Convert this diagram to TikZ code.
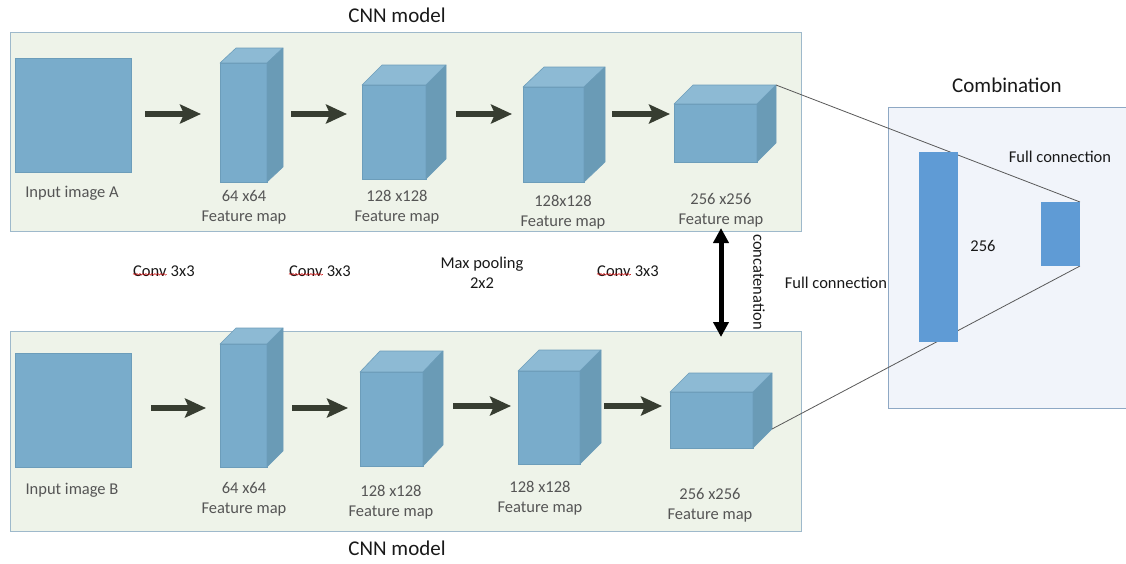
\documentclass[tikz,border=0pt]{standalone}
\usepackage{fontspec}
\setmainfont{Carlito}
\usetikzlibrary{arrows.meta,decorations.pathmorphing}
\definecolor{panelfill}{HTML}{EEF3E9}
\definecolor{panelline}{HTML}{9EB9CB}
\definecolor{combfill}{HTML}{F1F4FA}
\definecolor{combline}{HTML}{8EA8C4}
\definecolor{frontc}{HTML}{79ACCB}
\definecolor{topc}{HTML}{8DBAD4}
\definecolor{sidec}{HTML}{6A9BB6}
\definecolor{edgec}{HTML}{6C9DBA}
\definecolor{barc}{HTML}{5F9BD5}
\definecolor{arrowc}{HTML}{373D31}
\definecolor{lblc}{HTML}{555555}
\tikzset{
  panel/.style={draw=panelline, fill=panelfill, line width=1pt, inner sep=0, outer sep=0},
  comb/.style={draw=combline, fill=combfill, line width=1pt, inner sep=0, outer sep=0},
  front/.style={fill=frontc, draw=edgec, line width=0.6pt, inner sep=0, outer sep=0},
  topface/.style={fill=topc, draw=edgec, line width=0.6pt, line join=round},
  sideface/.style={fill=sidec, draw=edgec, line width=0.6pt, line join=round},
  inimg/.style={fill=frontc, draw=edgec, line width=0.8pt, inner sep=0, outer sep=0},
  bar/.style={fill=barc, inner sep=0, outer sep=0},
  lbl/.style={text=lblc, font=\fontsize{16.5}{20}\selectfont, align=center, inner sep=0},
  outl/.style={text=black!90, font=\fontsize{16.5}{20}\selectfont, align=center, inner sep=0},
  ttl/.style={text=black!90, font=\fontsize{21}{24}\selectfont, inner sep=0},
  bigarrow/.style={draw=arrowc, line width=6.5pt, -{Stealth[length=21pt, width=19pt, inset=4pt]}},
  dblarrow/.style={draw=black, line width=5pt, {Triangle[length=15pt, width=15pt]}-{Triangle[length=15pt, width=15pt]}},
  conn/.style={draw=black!65, line width=0.8pt},
  wavy/.style={draw=red!80!black, line width=0.5pt, decorate, decoration={snake, amplitude=0.8pt, segment length=3pt}}
}
% #1 name, #2 x1, #3 y1, #4 x2, #5 y2, #6 dx, #7 dy (upwards)
\newcommand\mycube[7]{%
  \node[front, minimum width={#4-#2}, minimum height={#5-#3}] (#1) at ({(#2+#4)/2},{(#3+#5)/2}) {};
  \path[topface] (#1.north west) -- ++(#6,-#7) -- ++({#4-#2},0) -- (#1.north east) -- cycle;
  \path[sideface] (#1.north east) -- ++(#6,-#7) coordinate (#1-tr) -- ++(0,{#5-#3}) coordinate (#1-br) -- (#1.south east) -- cycle;
}
\begin{document}
\begin{tikzpicture}[x=1pt,y=-1pt]
\useasboundingbox (0,0) rectangle (1126,563);
\fill[white] (0,0) rectangle (1126,563);

% panels
\node[panel, minimum width=791, minimum height=199, anchor=north west] (pA) at (10,32) {};
\node[panel, minimum width=791, minimum height=200, anchor=north west] (pB) at (10,331) {};
\node[comb, minimum width=260, minimum height=301, anchor=north west] (pC) at (888,107) {};

% titles
\node[ttl] (tA) at (397,15) {CNN model};
\node[ttl] (tB) at (397,548) {CNN model};
\node[ttl] (tC) at (1007,85) {Combination};

% top row
\node[inimg, minimum width=116, minimum height=114, anchor=north west] (inA) at (15,58) {};
\node[lbl] (inAl) at (72,193) {Input image A};
\mycube{ta1}{220}{63}{267}{182}{16}{15}
\mycube{ta2}{362}{85}{426}{179}{20}{20}
\mycube{ta3}{523}{87}{584}{182}{21}{20}
\mycube{ta4}{674}{104}{757}{162}{19}{19}
\node[lbl] (ta1l) at (244,207) {64 x64\\Feature map};
\node[lbl] (ta2l) at (397,207) {128 x128\\Feature map};
\node[lbl] (ta3l) at (563,212) {128x128\\Feature map};
\node[lbl] (ta4l) at (721,210) {256 x256\\Feature map};

\coordinate (a1s) at (145,114); \coordinate (a1e) at (201,114);
\coordinate (a2s) at (291,114); \coordinate (a2e) at (347,114);
\coordinate (a3s) at (456,114); \coordinate (a3e) at (512,114);
\coordinate (a4s) at (612,114); \coordinate (a4e) at (670,114);
\draw[bigarrow] (a1s) -- (a1e);
\draw[bigarrow] (a2s) -- (a2e);
\draw[bigarrow] (a3s) -- (a3e);
\draw[bigarrow] (a4s) -- (a4e);

% bottom row
\node[inimg, minimum width=116, minimum height=114, anchor=north west] (inB) at (15,353) {};
\node[lbl] (inBl) at (72,490) {Input image B};
\mycube{tb1}{220}{344}{267}{467}{16}{16}
\mycube{tb2}{360}{372}{423}{466}{20}{21}
\mycube{tb3}{518}{371}{580}{464}{21}{21}
\mycube{tb4}{670}{392}{753}{448}{19}{19}
\node[lbl] (tb1l) at (244,499) {64 x64\\Feature map};
\node[lbl] (tb2l) at (391,502) {128 x128\\Feature map};
\node[lbl] (tb3l) at (540,498) {128 x128\\Feature map};
\node[lbl] (tb4l) at (710,505) {256 x256\\Feature map};

\coordinate (b1s) at (151,408); \coordinate (b1e) at (206,408);
\coordinate (b2s) at (292,408); \coordinate (b2e) at (348,408);
\coordinate (b3s) at (453,406); \coordinate (b3e) at (511,406);
\coordinate (b4s) at (604,406); \coordinate (b4e) at (662,406);
\draw[bigarrow] (b1s) -- (b1e);
\draw[bigarrow] (b2s) -- (b2e);
\draw[bigarrow] (b3s) -- (b3e);
\draw[bigarrow] (b4s) -- (b4e);

% middle labels
\node[outl, anchor=base west] (cv1) at (133,276) {Conv};
\node[outl, anchor=base west] (cv1b) at ([xshift=3.8pt]cv1.base east) {3x3};
\draw[wavy] ([yshift=2pt]cv1.south west) -- ([yshift=2pt]cv1.south east);
\node[outl, anchor=base west] (cv2) at (289,276) {Conv};
\node[outl, anchor=base west] (cv2b) at ([xshift=3.8pt]cv2.base east) {3x3};
\draw[wavy] ([yshift=2pt]cv2.south west) -- ([yshift=2pt]cv2.south east);
\node[outl, anchor=base west] (cv3) at (597,276) {Conv};
\node[outl, anchor=base west] (cv3b) at ([xshift=3.8pt]cv3.base east) {3x3};
\draw[wavy] ([yshift=2pt]cv3.south west) -- ([yshift=2pt]cv3.south east);
\node[outl] (mp) at (482,273) {Max pooling\\2x2};

% concatenation
\coordinate (cTop) at (721,228);
\coordinate (cBot) at (721,337);
\draw[dblarrow] (cTop) -- (cBot);
\node[outl, rotate=-90] (cat) at (759,282) {concatenation};
\node[outl] (fc1) at (836,283) {Full connection};

% combination
\draw[conn] (ta4-tr) -- (1080,202);
\draw[conn] (tb4-br) -- (1080,266);
\node[bar, minimum width=39, minimum height=190, anchor=north west] (bar1) at (919,152) {};
\node[bar, minimum width=39, minimum height=64, anchor=north west] (bar2) at (1041,202) {};
\node[outl] (n256) at (983,246) {256};
\node[outl] (fc2) at (1060,157) {Full connection};
\end{tikzpicture}
\end{document}
